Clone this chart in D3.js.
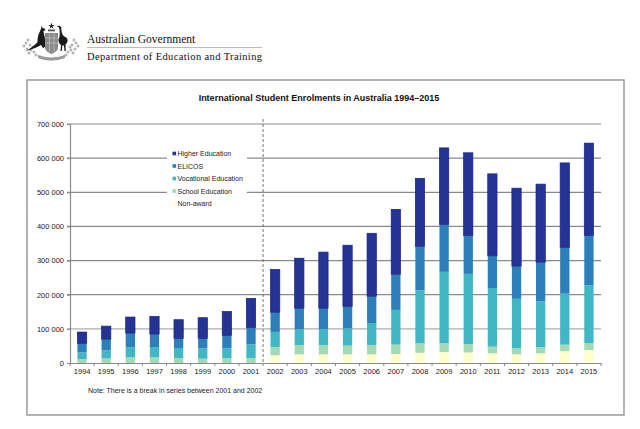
<!DOCTYPE html>
<html>
<head>
<meta charset="utf-8">
<script src="https://cdn.jsdelivr.net/npm/d3@7"></script>
<style>
  body { margin: 0; background: #fff; }
  svg { display: block; }
</style>
</head>
<body>
<svg id="chart" width="640" height="429"></svg>
<script>
// Years along the x axis
var years = ["1994","1995","1996","1997","1998","1999","2000","2001","2002","2003","2004",
             "2005","2006","2007","2008","2009","2010","2011","2012","2013","2014","2015"];

// Enrolments per sector, in thousands
var nonAward   = [0, 0, 0, 0, 0, 0, 0, 0, 22.5, 25.4, 25.4, 25.4, 25.4, 26.4, 30, 32, 31, 28.3, 25.4, 28.3, 35, 38];
var school     = [11.7, 13.7, 16.6, 16.6, 14.6, 12.7, 13.7, 14.6, 24.5, 27.4, 27.4, 25.5, 27.4, 27.4, 27.6, 26.5, 24.6, 19.5, 17.6, 17.6, 18.7, 20.5];
var vocational = [19.3, 23.3, 29.3, 30.2, 29.3, 30.2, 29.2, 40, 44, 46, 46.5, 50.8, 64.2, 101.8, 155, 208.5, 205.4, 171.7, 145, 134.6, 149.3, 169.5];
var elicos     = [26.6, 33, 41.9, 38.1, 28.3, 29.3, 38.1, 49.4, 57.7, 61.7, 61, 64.3, 78.6, 104.4, 129.3, 139, 112.7, 94.5, 96, 115, 135.5, 145.7];
var higher     = [33.1, 38, 46.8, 51.7, 54.6, 60.5, 70, 85, 125.3, 146.5, 164.5, 179, 184.4, 190, 199, 224, 242, 240, 228, 228.4, 247.5, 270.3];

// Stack order is bottom to top
var seriesNames = ["Non-award", "School Education", "Vocational Education", "ELICOS", "Higher Education"];
var seriesVals  = [nonAward, school, vocational, elicos, higher];
var colors      = ["#ffffcc", "#a1dab4", "#41b6c4", "#2c7fb8", "#253494"];

var yTicks = [0, 100000, 200000, 300000, 400000, 500000, 600000, 700000];

var svg = d3.select("#chart");

// ---- letterhead ----
var head = svg.append("g");
var crest = head.append("g").attr("stroke", "none");
// wattle sprays behind the supporters
var spray = [[24,46],[26,43],[28,40],[30,45],[27,49],[31,50],[34,52],[29,53],[36,55],[40,57],
             [78,46],[76,43],[74,40],[72,45],[75,49],[71,50],[68,52],[73,53],[66,55],[62,57],
             [44,58],[48,59],[52,59],[56,58],[33,47],[70,47]];
crest.selectAll("circle.w").data(spray).enter().append("circle")
  .attr("class", "w").attr("cx", function(d) { return d[0]; }).attr("cy", function(d) { return d[1]; })
  .attr("r", 1.5).attr("fill", "#b5b5b5");
// shield
crest.append("path").attr("d", "M45,33 L58,33 L58,47 C58,51 54,53 51.5,54 C49,53 45,51 45,47 Z")
  .attr("fill", "#8a8a8a");
crest.append("path").attr("d", "M45,38 L58,38 M45,43 L58,43 M49.5,33 L49.5,52 M54,33 L54,52")
  .attr("stroke", "#cfcfcf").attr("stroke-width", 0.6).attr("fill", "none");
// star on top
crest.append("path").attr("d", d3.symbol().type(d3.symbolStar).size(12)()).attr("transform", "translate(51.5,26)")
  .attr("fill", "#222");
crest.append("rect").attr("x", 48).attr("y", 29.5).attr("width", 7).attr("height", 1.8).attr("fill", "#555");
// kangaroo (left) and emu (right), rough silhouettes
crest.append("path").attr("fill", "#1a1a1a")
  .attr("d", "M41,29 L41.5,25.5 L42.5,28 L44.5,28.5 L45.5,30 L43.5,31 C43.5,34 45,36 45,40 L45,47 L43,48 L41,45 C38,47 33,49 26,51 C31,48 35,45 37.5,42 C37.5,36 39,33 41,29 Z");
crest.append("path").attr("fill", "#1a1a1a")
  .attr("d", "M59.5,25.5 L57,26.5 L59,27.5 C60,31 59.8,34 59.5,37 C58,39 58,43 61,45 L60.5,51 L61.8,51 L62.3,45.5 L64,45.5 L64.5,51 L65.8,51 L65.5,44.5 C68.5,42 68.5,38 64.5,36.5 C62.3,35.5 61.3,32 61.3,27.5 Z");
// motto scroll
crest.append("path").attr("d", "M38,55 Q51.5,60 65,55 L65,58 Q51.5,63 38,58 Z").attr("fill", "#9a9a9a");

head.append("text").attr("x", 87).attr("y", 43)
  .attr("font-family", "Liberation Serif, Times New Roman, serif").attr("font-size", 11.5)
  .attr("fill", "#111").text("Australian Government");
head.append("line").attr("x1", 87).attr("x2", 262).attr("y1", 47.5).attr("y2", 47.5)
  .attr("stroke", "#aaa").attr("stroke-width", 0.8);
head.append("text").attr("x", 87).attr("y", 59.5)
  .attr("font-family", "Liberation Serif, Times New Roman, serif").attr("font-size", 10.5)
  .attr("textLength", 175).attr("lengthAdjust", "spacing")
  .attr("fill", "#111").text("Department of Education and Training");

// ---- chart frame ----
svg.append("rect").attr("x", 27).attr("y", 80).attr("width", 597).attr("height", 335)
  .attr("fill", "none").attr("stroke", "#9a9a9a").attr("stroke-width", 1.5);

svg.append("text").attr("x", 319).attr("y", 101).attr("text-anchor", "middle")
  .attr("font-family", "Liberation Sans, Arial, sans-serif").attr("font-size", 9)
  .attr("font-weight", "bold").attr("fill", "#111")
  .text("International Student Enrolments in Australia 1994\u20132015");

// ---- scales ----
var x = d3.scaleBand().domain(years).range([70, 601]).paddingInner(0.615).paddingOuter(0.3075);
var y = d3.scaleLinear().domain([0, 700000]).range([363, 124]);

var fmt = d3.formatLocale({ decimal: ".", thousands: " ", grouping: [3], currency: ["", ""] }).format(",");

// gridlines
svg.append("g").selectAll("line").data(yTicks.slice(1)).enter().append("line")
  .attr("x1", 67).attr("x2", 601)
  .attr("y1", function(d) { return y(d); }).attr("y2", function(d) { return y(d); })
  .attr("stroke", function(d) { return d == 100000 ? "#c4c4c4" : "#8a8a8a"; })
  .attr("stroke-width", function(d) { return d == 100000 ? 1.8 : 1.2; });

// y axis
var yAxis = svg.append("g").attr("transform", "translate(70,0)")
  .call(d3.axisLeft(y).tickValues(yTicks).tickFormat(fmt).tickSize(3).tickPadding(3));
yAxis.select(".domain").attr("stroke", "#8a8a8a").attr("stroke-width", 1.2);
yAxis.selectAll(".tick line").attr("stroke", "#8a8a8a");
yAxis.selectAll("text").attr("font-family", "Liberation Sans, Arial, sans-serif")
  .attr("font-size", 7.5).attr("fill", "#1a1a1a");

// legend backdrop breaks the gridlines
svg.append("rect").attr("x", 167).attr("y", 144).attr("width", 80).attr("height", 66).attr("fill", "#fff");

// break in series
var breakX = (x("2001") + x.bandwidth() + x("2002")) / 2;
svg.append("line").attr("x1", breakX).attr("x2", breakX).attr("y1", 119).attr("y2", 363)
  .attr("stroke", "#555").attr("stroke-width", 0.8).attr("stroke-dasharray", "3,2");

// stacked bars
var table = years.map(function(yr, i) {
  var row = { year: yr };
  seriesNames.forEach(function(s, j) { row[s] = seriesVals[j][i] * 1000; });
  return row;
});
var stacked = d3.stack().keys(seriesNames)(table);

svg.append("g").selectAll("g").data(stacked).enter().append("g")
  .attr("fill", function(d, i) { return colors[i]; })
  .attr("stroke", function(d, i) { return i == 4 ? "#16208a" : "none"; })
  .attr("stroke-width", 0.7)
  .selectAll("rect").data(function(d) { return d; }).enter().append("rect")
    .attr("x", function(d) { return x(d.data.year); })
    .attr("width", x.bandwidth())
    .attr("y", function(d) { return y(d[1]); })
    .attr("height", function(d) { return Math.max(0, y(d[0]) - y(d[1])); });

// x axis
var xAxis = svg.append("g").attr("transform", "translate(0,363)")
  .call(d3.axisBottom(x).tickSize(0).tickPadding(6));
xAxis.select(".domain").attr("stroke", "#8a8a8a").attr("stroke-width", 1.2);
xAxis.selectAll("text").attr("font-family", "Liberation Sans, Arial, sans-serif")
  .attr("font-size", 7.5).attr("fill", "#1a1a1a");
// tick marks sit between the categories
svg.append("g").selectAll("line").data(d3.range(years.length + 1)).enter().append("line")
  .attr("x1", function(i) { return 70 + i * x.step(); })
  .attr("x2", function(i) { return 70 + i * x.step(); })
  .attr("y1", 363).attr("y2", 366).attr("stroke", "#8a8a8a");

// legend, top entry first
var legend = svg.append("g").attr("font-family", "Liberation Sans, Arial, sans-serif").attr("font-size", 7);
var legendOrder = [4, 3, 2, 1, 0];
legendOrder.forEach(function(j, k) {
  var ly = 153.5 + k * 12.5;
  legend.append("rect").attr("x", 172.5).attr("y", ly - 1.8).attr("width", 3.6).attr("height", 3.6).attr("fill", colors[j]);
  legend.append("text").attr("x", 177.5).attr("y", ly + 2.5).attr("fill", "#1a1a1a").text(seriesNames[j]);
});

// note
svg.append("text").attr("x", 88).attr("y", 393)
  .attr("font-family", "Liberation Sans, Arial, sans-serif").attr("font-size", 7).attr("fill", "#1a1a1a")
  .text("Note: There is a break in series between 2001 and 2002");
</script>
</body>
</html>
